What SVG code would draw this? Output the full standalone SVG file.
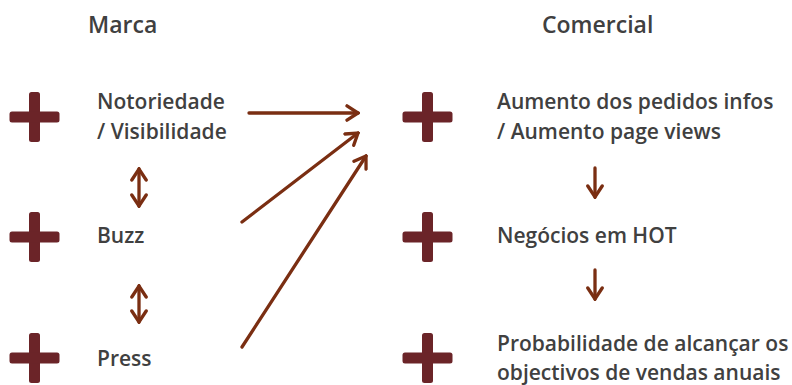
<svg xmlns="http://www.w3.org/2000/svg" width="792" height="385" viewBox="0 0 792 385">
<defs>
<style>
.t{font-family:"Open Sans","Noto Sans",sans-serif;font-weight:600;font-size:21px;fill:#404040}
.h{font-size:23px}
.p{fill:#6B2428}
.c{stroke:#7A2E12;stroke-width:3.3;fill:none;stroke-linecap:round}
</style>
<marker id="ah" viewBox="0 0 15 18" refX="13" refY="9" markerWidth="15" markerHeight="18" markerUnits="userSpaceOnUse" orient="auto-start-reverse">
<path d="M2,1.8 L13,9 L2,16.2" fill="none" stroke="#7A2E12" stroke-width="3.3" stroke-linecap="round" stroke-linejoin="miter"/>
</marker>
<g id="plus"><rect x="-5.5" y="-25" width="11" height="50" rx="2.5"/><rect x="-25" y="-5.5" width="50" height="11" rx="2.5"/></g>
</defs>
<rect width="792" height="385" fill="#fff"/>
<g id="headings">
<text class="t h" x="88" y="33">Marca</text>
<text class="t h" x="542" y="33">Comercial</text>
</g>
<g id="n-notoriedade"><use href="#plus" class="p" x="34.5" y="117"/><text class="t" x="97" y="109">Notoriedade</text><text class="t" x="97" y="139">/ Visibilidade</text></g>
<g id="n-buzz"><use href="#plus" class="p" x="34.5" y="237"/><text class="t" x="97" y="243">Buzz</text></g>
<g id="n-press"><use href="#plus" class="p" x="34.5" y="358"/><text class="t" x="97" y="366">Press</text></g>
<g id="n-aumento"><use href="#plus" class="p" x="427.5" y="117"/><text class="t" x="497" y="109">Aumento dos pedidos infos</text><text class="t" x="497" y="139">/ Aumento page views</text></g>
<g id="n-negocios"><use href="#plus" class="p" x="427.5" y="237"/><text class="t" x="497" y="243">Negócios em HOT</text></g>
<g id="n-prob"><use href="#plus" class="p" x="427.5" y="358"/><text class="t" x="497" y="351">Probabilidade de alcançar os</text><text class="t" x="497" y="380">objectivos de vendas anuais</text></g>
<g id="connectors">
<line class="c" x1="249" y1="113" x2="358" y2="113" marker-end="url(#ah)"/>
<line class="c" x1="242" y1="222" x2="358" y2="133" marker-end="url(#ah)"/>
<line class="c" x1="242" y1="347" x2="366" y2="156" marker-end="url(#ah)"/>
<line class="c" x1="139" y1="169" x2="139" y2="206" marker-start="url(#ah)" marker-end="url(#ah)"/>
<line class="c" x1="139" y1="286" x2="139" y2="322" marker-start="url(#ah)" marker-end="url(#ah)"/>
<line class="c" x1="595" y1="168" x2="595" y2="197" marker-end="url(#ah)"/>
<line class="c" x1="595" y1="270" x2="595" y2="299" marker-end="url(#ah)"/>
</g>
</svg>
